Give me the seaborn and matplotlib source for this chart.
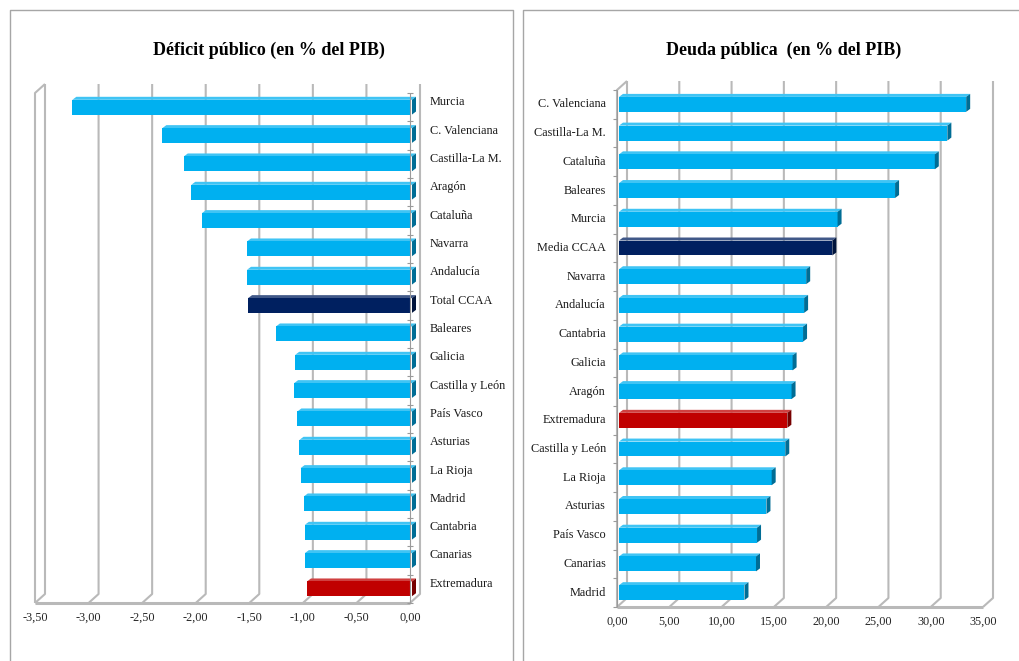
import matplotlib
matplotlib.use("Agg")
import matplotlib.pyplot as plt
import matplotlib.colors as mcolors
from matplotlib.lines import Line2D
from matplotlib.patches import Polygon
from matplotlib.transforms import offset_copy
import pandas as pd
import seaborn as sns

# ---- data -------------------------------------------------------------
deficit_regions = ["Murcia", "C. Valenciana", "Castilla-La M.", "Aragón", "Cataluña",
                   "Navarra", "Andalucía", "Total CCAA", "Baleares", "Galicia",
                   "Castilla y León", "País Vasco", "Asturias", "La Rioja", "Madrid",
                   "Cantabria", "Canarias", "Extremadura"]
deficit_values = [-3.17, -2.33, -2.13, -2.06, -1.96, -1.54, -1.54, -1.53, -1.27, -1.09,
                  -1.10, -1.07, -1.05, -1.04, -1.01, -1.00, -1.00, -0.98]
deficit_ticks = [-3.5, -3.0, -2.5, -2.0, -1.5, -1.0, -0.5, 0.0]

debt_regions = ["C. Valenciana", "Castilla-La M.", "Cataluña", "Baleares", "Murcia",
                "Media CCAA", "Navarra", "Andalucía", "Cantabria", "Galicia", "Aragón",
                "Extremadura", "Castilla y León", "La Rioja", "Asturias", "País Vasco",
                "Canarias", "Madrid"]
debt_values = [33.2, 31.4, 30.2, 26.4, 20.9, 20.4, 17.9, 17.7, 17.6, 16.6, 16.5,
               16.1, 15.9, 14.6, 14.1, 13.2, 13.1, 12.0]
debt_ticks = [0, 5, 10, 15, 20, 25, 30, 35]

LIGHT = "#00B0F0"
NAVY = "#002060"
RED = "#C00000"
GRID = "#B9B9B9"
FRAME = "#A6A6A6"

W, H = 1020, 661
DEPTH = (10, 9)      # back-plane offset of the 3-D frame, pixels
BAR_SHIFT = 2        # bars sit slightly behind the front plane
CAP = (4, 3)         # visible side/top face of each bar, pixels


def palette_for(regions, average_label):
    pal = {}
    for r in regions:
        if r == average_label:
            pal[r] = NAVY
        elif r == "Extremadura":
            pal[r] = RED
        else:
            pal[r] = LIGHT
    return pal


def shade(color, f):
    r, g, b = mcolors.to_rgb(color)
    if f < 1:
        return (r * f, g * f, b * f)
    f = f - 1
    return (r + (1 - r) * f, g + (1 - g) * f, b + (1 - b) * f)


def fmt(v):
    return f"{v:.2f}".replace(".", ",")


sns.set_theme(style="white")
plt.rcParams["font.family"] = ["Liberation Serif", "DejaVu Serif"]

fig = plt.figure(figsize=(W / 100, H / 100), dpi=100)
fig.patch.set_facecolor("white")


def add_axes(left, right, top, bottom):
    return fig.add_axes([left / W, 1 - bottom / H, (right - left) / W, (bottom - top) / H])


def to_axes(ax, x, y, dx=0.0, dy=0.0):
    X, Y = ax.transData.transform((x, y))
    return ax.transAxes.inverted().transform((X + dx, Y + dy))


def line(ax, pts, color=GRID, lw=1.5, z=0.5):
    xs = [p[0] for p in pts]
    ys = [p[1] for p in pts]
    ax.add_line(Line2D(xs, ys, transform=ax.transAxes, color=color, lw=lw,
                       clip_on=False, zorder=z, solid_capstyle="butt"))


def draw_frame(ax, ticks, wall_x, axis_x, tick_dir):
    y_top, y_bot = -0.5, 17.5
    dx, dy = DEPTH
    # gridlines on the back plane, running down to the floor's front edge
    for t in ticks:
        line(ax, [to_axes(ax, t, y_top, dx, dy), to_axes(ax, t, y_bot, dx, dy),
                  to_axes(ax, t, y_bot)])
    # side wall: front edge and top bevel
    line(ax, [to_axes(ax, wall_x, y_bot), to_axes(ax, wall_x, y_top),
              to_axes(ax, wall_x, y_top, dx, dy)])
    # floor front edge
    line(ax, [to_axes(ax, ticks[0], y_bot), to_axes(ax, ticks[-1], y_bot)], lw=2.2)
    # category axis with boundary tick marks
    line(ax, [to_axes(ax, axis_x, y_top), to_axes(ax, axis_x, y_bot)], color="#9A9A9A", lw=0.8, z=3)
    for k in range(19):
        yb = -0.5 + k
        if tick_dir == "both":
            a, b = to_axes(ax, axis_x, yb, -3), to_axes(ax, axis_x, yb, 3)
        else:
            a, b = to_axes(ax, axis_x, yb, -4), to_axes(ax, axis_x, yb, 0)
        line(ax, [a, b], color="#9A9A9A", lw=0.8, z=3)


def draw_bars(ax, regions, values, average_label):
    df = pd.DataFrame({"region": regions, "value": values})
    sns.barplot(data=df, x="value", y="region", hue="region",
                palette=palette_for(regions, average_label), orient="h",
                width=0.52, saturation=1, legend=False, edgecolor="none", ax=ax)


def dress_bars(ax):
    shifted = offset_copy(ax.transData, fig, x=BAR_SHIFT, y=0, units="dots")
    cx, cy = CAP
    for p in list(ax.patches):
        col = p.get_facecolor()
        p.set_transform(shifted)
        p.set_zorder(2)
        x0, w, y0, h = p.get_x(), p.get_width(), p.get_y(), p.get_height()
        xl, xr = min(x0, x0 + w), max(x0, x0 + w)
        X0, Ya = ax.transData.transform((xl, y0))
        X1, Yb = ax.transData.transform((xr, y0 + h))
        X0 += BAR_SHIFT
        X1 += BAR_SHIFT
        Yt, Yl = max(Ya, Yb), min(Ya, Yb)
        inv = ax.transAxes.inverted()
        side = inv.transform([(X1, Yl), (X1, Yt), (X1 + cx, Yt + cy), (X1 + cx, Yl + cy)])
        top = inv.transform([(X0, Yt), (X1, Yt), (X1 + cx, Yt + cy), (X0 + cx, Yt + cy)])
        ax.add_patch(Polygon(top, closed=True, transform=ax.transAxes,
                             facecolor=shade(col, 1.25), edgecolor="none",
                             clip_on=False, zorder=1.9))
        ax.add_patch(Polygon(side, closed=True, transform=ax.transAxes,
                             facecolor=shade(col, 0.62), edgecolor="none",
                             clip_on=False, zorder=2.1))


def finish_axes(ax, ticks):
    ax.set_xticks(ticks)
    ax.set_xticklabels([fmt(t) for t in ticks], fontsize=8.8)
    ax.tick_params(axis="x", length=3, width=0.8, color="#9A9A9A", pad=3)
    ax.set_yticks([])
    ax.set_xlabel("")
    ax.set_ylabel("")
    for s in ax.spines.values():
        s.set_visible(False)
    ax.set_facecolor("none")


# ---- left: deficit ------------------------------------------------------
axl = add_axes(35, 410, 93, 603)
draw_bars(axl, deficit_regions, deficit_values, "Total CCAA")
axl.set_xlim(-3.5, 0.0)
axl.set_ylim(17.5, -0.5)
finish_axes(axl, deficit_ticks)
draw_frame(axl, deficit_ticks, wall_x=-3.5, axis_x=0.0, tick_dir="both")
dress_bars(axl)
lab_l = offset_copy(axl.transData, fig, x=20, y=5, units="dots")
for i, r in enumerate(deficit_regions):
    axl.text(0.0, i, r, transform=lab_l, ha="left", va="center", fontsize=8.8, color="#1a1a1a")

# ---- right: debt --------------------------------------------------------
axr = add_axes(617, 983, 90, 607)
draw_bars(axr, debt_regions, debt_values, "Media CCAA")
axr.set_xlim(0, 35)
axr.set_ylim(17.5, -0.5)
finish_axes(axr, debt_ticks)
draw_frame(axr, debt_ticks, wall_x=0, axis_x=0, tick_dir="left")
dress_bars(axr)
lab_r = offset_copy(axr.transData, fig, x=-11, y=0, units="dots")
for i, r in enumerate(debt_regions):
    axr.text(0, i, r, transform=lab_r, ha="right", va="center", fontsize=8.8, color="#1a1a1a")

# ---- titles and panel frames -------------------------------------------
fig.text(269 / W, 1 - 50 / H, "Déficit público (en % del PIB)", ha="center", va="center",
         fontsize=13, fontweight="bold", color="black")
fig.text(784 / W, 1 - 50 / H, "Deuda pública  (en % del PIB)", ha="center", va="center",
         fontsize=13, fontweight="bold", color="black")


def frame(pts):
    fig.add_artist(Line2D([p[0] / W for p in pts], [1 - p[1] / H for p in pts],
                          transform=fig.transFigure, color=FRAME, lw=1.0))


frame([(10, 661), (10, 10), (513, 10), (513, 661)])
frame([(523, 661), (523, 10), (1020, 10)])

fig.savefig("out.png", dpi=100, facecolor="white")
